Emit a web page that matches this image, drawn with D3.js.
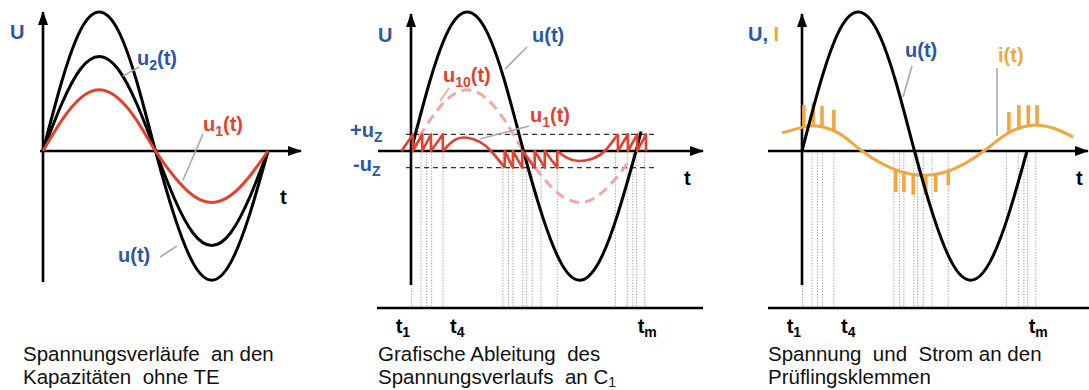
<!DOCTYPE html>
<html><head><meta charset="utf-8">
<script src="https://cdn.jsdelivr.net/npm/d3@7"></script>
<style>
body{margin:0;background:#fff;}
svg{display:block;font-family:"Liberation Sans",Arial,sans-serif;}
text{white-space:pre;}
</style></head><body>
<svg id="c" width="1089" height="390"></svg>
<script>
// Phase grid in degrees of one mains period, with sampled voltages (arbitrary units)
const phase   = [0, 30, 60, 90, 120, 150, 180, 210, 240, 270, 300, 330, 360];
const uSource = [0, 5.0, 8.7, 10, 8.7, 5.0, 0, -4.65, -8.05, -9.3, -8.05, -4.65, 0];
const u2Cap   = [0, 3.4, 5.9, 6.8, 5.9, 3.4, 0, -3.4, -5.9, -6.8, -5.9, -3.4, 0];
const u1Cap   = [0, 2.2, 3.8, 4.4, 3.8, 2.2, 0, -1.85, -3.2, -3.7, -3.2, -1.85, 0];

// Source voltage continues a little past one period in the middle diagram
const uTail = [368, 1.4];

// Open-circuit voltage u10 across C1 (dashed)
const u10Phase = [0, 30, 60, 90, 120, 150, 180, 210, 240, 270, 300, 330, 350];
const u10Vals  = [0, 2.2, 3.8, 4.4, 3.8, 2.2, 0, -1.85, -3.2, -3.7, -3.2, -1.85, -0.65];

// Breakdown threshold and the discharge instants t1 ... tm
const uZ = 1.2;
const jumpPhase = [3, 18, 32, 51, 150, 163, 178, 198, 214, 234, 331, 347, 362, 376];
const jumpSign  = [1, 1, 1, 1, -1, -1, -1, -1, -1, -1, 1, 1, 1, 1];
// Smooth stretches of u1(t) between the discharge groups
const u1Lead = [-15, 0];
const u1Hump = [[51, 0], [70, 0.8], [90, 0.95], [110, 0.65], [128, 0], [150, -1.2]];
const u1Dip  = [[234, 0], [250, -0.5], [268, -0.72], [290, -0.55], [310, 0], [331, 1.2]];

// Terminal current i(t) and the current pulses at each discharge
const iPhase = [-32, 0, 24, 60, 96, 147, 197, 245, 291, 330, 370, 405, 434];
const iVals  = [1.3, 1.7, 1.8, 1.25, 0, -1.3, -1.75, -1.25, 0, 1.3, 1.85, 1.6, 1.0];
const spikeTop = [3.3, 3.45, 3.25, 2.95, -2.95, -2.95, -3.15, -3.15, -2.95, -2.45, 2.8, 3.3, 3.3, 3.3];

// Dotted projection lines down to the time axis
const markPhase = [1, 16, 25, 33, 51, 147, 156, 163, 179, 185, 194, 208, 234, 327, 346, 355, 361, 374];
// Time labels on the lower axis
const timeSub   = ["1", "4", "m"];
const timePhase = [-13, 74, 378];

const BLUE = "#2757ad", RED = "#e2412f", PINK = "#f3a7a3", ORANGE = "#f0a73f", GREY = "#a9a9a9";
const svg = d3.select("#c");

const defs = svg.append("defs");
defs.append("marker").attr("id", "arr")
  .attr("viewBox", "0 0 14 10").attr("refX", 13).attr("refY", 5)
  .attr("markerWidth", 14).attr("markerHeight", 10)
  .attr("markerUnits", "userSpaceOnUse").attr("orient", "auto")
  .append("path").attr("d", "M0,0L14,5L0,10Z").attr("fill", "#000");

const zeroY = 151;
const y = d3.scaleLinear().domain([0, 10]).range([zeroY, 12]);
const pxPerPeriod = 225;
function xScale(ox) { return d3.scaleLinear().domain([0, 360]).range([ox, ox + pxPerPeriod]); }

function smooth(x) { return d3.line().x(d => x(d[0])).y(d => y(d[1])).curve(d3.curveNatural); }
function straight(x) { return d3.line().x(d => x(d[0])).y(d => y(d[1])); }
const zip = (a, b) => a.map((v, i) => [v, b[i]]);

function axes(g, x, xFrom, xTo, yTop, yBot) {
  g.append("line").attr("x1", xFrom).attr("x2", xTo).attr("y1", zeroY).attr("y2", zeroY)
    .attr("stroke", "#000").attr("stroke-width", 2.6).attr("marker-end", "url(#arr)");
  g.append("line").attr("x1", x(0)).attr("x2", x(0)).attr("y1", yBot).attr("y2", yTop)
    .attr("stroke", "#000").attr("stroke-width", 2.6).attr("marker-end", "url(#arr)");
}
function curve(g, gen, pts, color, w, dash) {
  const p = g.append("path").attr("d", gen(pts)).attr("fill", "none")
    .attr("stroke", color).attr("stroke-width", w)
    .attr("stroke-linejoin", "round").attr("stroke-linecap", "butt");
  if (dash) p.attr("stroke-dasharray", dash);
  return p;
}
function label(g, xp, yp, parts, size) {
  const t = g.append("text").attr("x", xp).attr("y", yp)
    .attr("font-weight", "bold").attr("font-size", size || 20);
  parts.forEach(p => {
    const s = t.append("tspan").text(p.t).attr("fill", p.c || "#000");
    if (p.sub) s.attr("font-size", 14).attr("dy", 5);
    if (p.up) s.attr("dy", -5);
  });
  return t;
}
function leader(g, x1, y1, x2, y2, c) {
  g.append("line").attr("x1", x1).attr("y1", y1).attr("x2", x2).attr("y2", y2)
    .attr("stroke", c || GREY).attr("stroke-width", 1.6);
}
function caption(g, xp, lines) {
  const t = g.append("text").attr("font-size", 20.5).attr("fill", "#111");
  lines.forEach((ln, i) => {
    const row = t.append("tspan").attr("x", xp).attr("y", 361 + i * 23);
    ln.forEach(p => {
      const s = row.append("tspan").text(p.t);
      if (p.sub) s.attr("font-size", 14).attr("dy", 3);
    });
  });
}
function projections(g, x, bottomFrom, bottomTo) {
  g.selectAll(null).data(markPhase).join("line")
    .attr("x1", d => x(d)).attr("x2", d => x(d))
    .attr("y1", zeroY).attr("y2", 308)
    .attr("stroke", "#9a9a9a").attr("stroke-width", 1).attr("stroke-dasharray", "1.2,1.6");
  g.append("line").attr("x1", bottomFrom).attr("x2", bottomTo).attr("y1", 308).attr("y2", 308)
    .attr("stroke", "#000").attr("stroke-width", 2.6);
  g.selectAll(null).data(timeSub).join("text")
    .attr("x", (d, i) => x(timePhase[i])).attr("y", 333)
    .attr("text-anchor", "middle").attr("font-weight", "bold").attr("font-size", 20)
    .each(function (d) {
      const t = d3.select(this);
      t.append("tspan").text("t");
      t.append("tspan").text(d).attr("font-size", 14).attr("dy", 4);
    });
}

// ---------- Left: voltages across the capacitances without partial discharge ----------
{
  const g = svg.append("g"), x = xScale(43);
  axes(g, x, x(0) - 3, 301, 12, 282);
  curve(g, smooth(x), zip(phase, uSource), "#000", 3);
  curve(g, smooth(x), zip(phase, u2Cap), "#000", 3);
  curve(g, smooth(x), zip(phase, u1Cap), RED, 3);
  label(g, 10, 39, [{ t: "U", c: BLUE }]);
  label(g, 280, 204, [{ t: "t" }]);
  leader(g, 123, 76, 139, 67);
  label(g, 137, 65, [{ t: "u", c: BLUE }, { t: "2", c: BLUE, sub: 1 }, { t: "(t)", c: BLUE, up: 1 }]);
  leader(g, 203, 134, 183, 180);
  label(g, 203, 131, [{ t: "u", c: RED }, { t: "1", c: RED, sub: 1 }, { t: "(t)", c: RED, up: 1 }]);
  leader(g, 160, 257, 177, 246);
  label(g, 118, 262, [{ t: "u(t)", c: BLUE }]);
  caption(g, 23, [[{ t: "Spannungsverläufe  an den" }], [{ t: "Kapazitäten  ohne TE" }]]);
}

// ---------- Middle: graphical derivation of the voltage across C1 ----------
{
  const g = svg.append("g"), x = xScale(411);
  projections(g, x, 377, 703);
  // +uZ / -uZ threshold lines
  [uZ, -uZ].forEach(v => g.append("line").attr("x1", 406).attr("x2", 658)
    .attr("y1", y(v)).attr("y2", y(v)).attr("stroke", "#333").attr("stroke-width", 1.3)
    .attr("stroke-dasharray", "5,4"));
  curve(g, smooth(x), zip(u10Phase, u10Vals), PINK, 3, "10,6");
  axes(g, x, 378, 703, 14, 285);
  curve(g, smooth(x), zip(phase, uSource).concat([uTail]), "#000", 3);

  // u1(t): sawtooth groups joined by smooth stretches
  const groups = [[0, 4], [4, 10], [10, 14]];
  const links = [null, u1Hump, u1Dip];
  groups.forEach(([a, b], gi) => {
    const pts = [];
    if (gi === 0) pts.push(u1Lead);
    for (let k = a; k < b; k++) {
      pts.push([jumpPhase[k], jumpSign[k] * uZ]);
      pts.push([jumpPhase[k], 0]);
    }
    curve(g, straight(x), pts, RED, 2.6);
    if (links[gi]) curve(g, smooth(x), links[gi], RED, 2.6);
  });

  label(g, 378, 42, [{ t: "U", c: BLUE }]);
  label(g, 684, 185, [{ t: "t" }]);
  leader(g, 527, 47, 505, 69);
  label(g, 532, 42, [{ t: "u(t)", c: BLUE }]);
  leader(g, 449, 88, 440, 101, PINK);
  label(g, 443, 82, [{ t: "u", c: RED }, { t: "10", c: RED, sub: 1 }, { t: "(t)", c: RED, up: 1 }]);
  leader(g, 529, 126, 480, 139);
  label(g, 530, 122, [{ t: "u", c: RED }, { t: "1", c: RED, sub: 1 }, { t: "(t)", c: RED, up: 1 }]);
  label(g, 350, 137, [{ t: "+u", c: BLUE }, { t: "Z", c: BLUE, sub: 1 }]);
  label(g, 353, 171, [{ t: "-u", c: BLUE }, { t: "Z", c: BLUE, sub: 1 }]);
  caption(g, 378, [[{ t: "Grafische Ableitung  des" }], [{ t: "Spannungsverlaufs  an C" }, { t: "1", sub: 1 }]]);
}

// ---------- Right: voltage and current at the terminals of the test object ----------
{
  const g = svg.append("g"), x = xScale(802);
  projections(g, x, 768, 1089);
  axes(g, x, 768, 1088, 14, 285);
  const iPts = zip(iPhase, iVals);
  curve(g, smooth(x), iPts, ORANGE, 3);
  const iAt = d3.scaleLinear().domain(iPhase).range(iVals);
  g.selectAll(null).data(jumpPhase).join("line")
    .attr("x1", d => x(d)).attr("x2", d => x(d))
    .attr("y1", d => y(iAt(d))).attr("y2", (d, k) => y(spikeTop[k]))
    .attr("stroke", ORANGE).attr("stroke-width", 3.6);
  curve(g, smooth(x), zip(phase, uSource), "#000", 3);

  label(g, 748, 41, [{ t: "U,", c: BLUE }, { t: " I", c: ORANGE }]);
  label(g, 1076, 185, [{ t: "t" }]);
  leader(g, 912, 66, 903, 97);
  label(g, 905, 57, [{ t: "u(t)", c: BLUE }]);
  leader(g, 997, 68, 997, 136);
  label(g, 998, 62, [{ t: "i(t)", c: ORANGE }]);
  caption(g, 768, [[{ t: "Spannung  und  Strom an den" }], [{ t: "Prüflingsklemmen" }]]);
}
</script>
</body></html>
